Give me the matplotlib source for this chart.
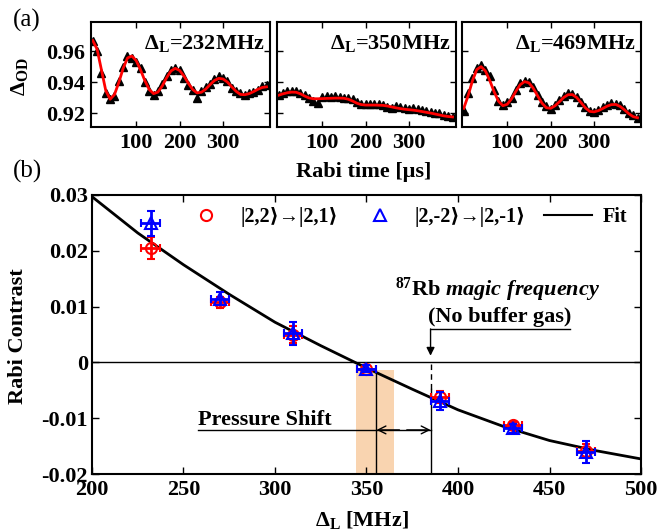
import numpy as np
import matplotlib
matplotlib.use("Agg")
import matplotlib.pyplot as plt
from matplotlib.lines import Line2D

plt.rcParams['font.family'] = ['Liberation Serif', 'DejaVu Serif', 'DejaVu Sans']
plt.rcParams['font.weight'] = 'bold'
plt.rcParams['mathtext.fontset'] = 'custom'
plt.rcParams['mathtext.rm'] = 'Liberation Serif:bold'
plt.rcParams['mathtext.bf'] = 'Liberation Serif:bold'
plt.rcParams['mathtext.it'] = 'Liberation Serif:italic:bold'

# ---------------- data: panel (a) ----------------
rabi_t = list(range(0, 401, 10))
detunings = ["232", "350", "469"]

od_232 = [0.9665, 0.9600, 0.9460, 0.9330, 0.9290, 0.9310, 0.9410, 0.9500, 0.9570, 0.9560,
          0.9530, 0.9490, 0.9400, 0.9340, 0.9320, 0.9340, 0.9390, 0.9440, 0.9480, 0.9490,
          0.9480, 0.9430, 0.9385, 0.9350, 0.9300, 0.9340, 0.9370, 0.9390, 0.9420, 0.9440,
          0.9425, 0.9405, 0.9365, 0.9345, 0.9330, 0.9320, 0.9330, 0.9335, 0.9350, 0.9375, 0.9385]
fit_232 = [0.9670, 0.9614, 0.9480, 0.9346, 0.9290, 0.9320, 0.9398, 0.9490, 0.9557, 0.9570,
           0.9540, 0.9480, 0.9410, 0.9353, 0.9326, 0.9336, 0.9376, 0.9429, 0.9473, 0.9490,
           0.9476, 0.9440, 0.9394, 0.9353, 0.9331, 0.9335, 0.9355, 0.9384, 0.9411, 0.9425,
           0.9421, 0.9401, 0.9370, 0.9341, 0.9321, 0.9319, 0.9326, 0.9339, 0.9354, 0.9366, 0.9370]

od_350 = [0.9318, 0.9330, 0.9340, 0.9345, 0.9342, 0.9330, 0.9315, 0.9300, 0.9280, 0.9265,
          0.9305, 0.9308, 0.9305, 0.9308, 0.9305, 0.9300, 0.9298, 0.9290, 0.9272, 0.9262,
          0.9262, 0.9260, 0.9258, 0.9260, 0.9255, 0.9240, 0.9230, 0.9245, 0.9238, 0.9235,
          0.9225, 0.9232, 0.9225, 0.9222, 0.9212, 0.9208, 0.9200, 0.9200, 0.9190, 0.9183, 0.9175]
fit_350 = [0.9316, 0.9325, 0.9332, 0.9336, 0.9335, 0.9325, 0.9310, 0.9298, 0.9293, 0.9293,
           0.9294, 0.9295, 0.9296, 0.9297, 0.9297, 0.9296, 0.9290, 0.9278, 0.9264, 0.9255,
           0.9252, 0.9252, 0.9252, 0.9251, 0.9250, 0.9246, 0.9240, 0.9234, 0.9229, 0.9225,
           0.9222, 0.9219, 0.9215, 0.9210, 0.9205, 0.9200, 0.9194, 0.9188, 0.9182, 0.9178, 0.9175]

od_469 = [0.9215, 0.9330, 0.9430, 0.9490, 0.9510, 0.9480, 0.9440, 0.9350, 0.9280, 0.9255,
          0.9270, 0.9300, 0.9350, 0.9395, 0.9410, 0.9400, 0.9370, 0.9320, 0.9275, 0.9245,
          0.9228, 0.9255, 0.9282, 0.9310, 0.9330, 0.9325, 0.9305, 0.9272, 0.9240, 0.9215,
          0.9210, 0.9220, 0.9238, 0.9252, 0.9265, 0.9260, 0.9250, 0.9228, 0.9200, 0.9185, 0.9168]
fit_469 = [0.9231, 0.9312, 0.9409, 0.9482, 0.9501, 0.9472, 0.9411, 0.9338, 0.9277, 0.9248,
           0.9257, 0.9292, 0.9341, 0.9384, 0.9404, 0.9396, 0.9361, 0.9312, 0.9265, 0.9235,
           0.9231, 0.9247, 0.9273, 0.9301, 0.9319, 0.9320, 0.9301, 0.9268, 0.9234, 0.9211,
           0.9208, 0.9216, 0.9230, 0.9245, 0.9255, 0.9256, 0.9243, 0.9221, 0.9196, 0.9177, 0.9170]

# ---------------- data: panel (b) ----------------
delta_L = [232, 270, 310, 350, 390, 430, 470]
delta_err = [5, 5, 5, 5, 5, 5, 5]
contrast_22 = [0.0205, 0.0108, 0.0050, -0.0011, -0.0062, -0.0113, -0.0158]
err_22 = [0.0020, 0.0010, 0.0015, 0.0007, 0.0010, 0.0007, 0.0012]
contrast_m22 = [0.0249, 0.0114, 0.0052, -0.0011, -0.0069, -0.0118, -0.0160]
err_m22 = [0.0022, 0.0012, 0.0020, 0.0007, 0.0016, 0.0008, 0.0020]

fit_x = [200, 225, 250, 275, 300, 325, 350, 375, 400, 425, 450, 475, 500]
fit_y = [0.0297, 0.0232, 0.0175, 0.0122, 0.0072, 0.0030, -0.0010, -0.0048, -0.0085,
         -0.0115, -0.0140, -0.0158, -0.0173]

magic_freq = 385
shift_center = 355
shift_band = (344, 365)

# ---------------- figure ----------------
fig = plt.figure(figsize=(6.6, 5.31), dpi=100)
W, H = 660, 531

def axpos(l, t, r, b):
    return [l / W, 1 - b / H, (r - l) / W, (b - t) / H]

TS = 16
top_boxes = [(91, 22, 270, 127), (277, 22, 456, 127), (462, 22, 641, 127)]
od_sets = [od_232, od_350, od_469]
fit_sets = [fit_232, fit_350, fit_469]
for i, (box, od, ft, dl) in enumerate(zip(top_boxes, od_sets, fit_sets, detunings)):
    ax = fig.add_axes(axpos(*box))
    ax.plot(rabi_t, od, linestyle='none', marker='^', color='black', ms=5.5)
    ax.plot(rabi_t, ft, color='red', lw=2)
    ax.set_xlim(-4, 408)
    ax.set_ylim(0.911, 0.979)
    ax.set_xticks([100, 200, 300])
    ax.set_yticks([0.92, 0.94, 0.96])
    ax.tick_params(direction='in', top=True, right=True, length=4, width=1,
                   labelsize=TS, pad=4)
    ax.tick_params(axis='y', pad=4)
    if i > 0:
        ax.set_yticklabels([])
    else:
        ax.set_yticklabels(['0.92', '0.94', '0.96'])
    for s in ax.spines.values():
        s.set_linewidth(1.5)
    ax.text(0.97, 0.80, r"$\Delta_{\mathrm{L}}$=" + dl + "MHz", transform=ax.transAxes,
            ha='right', va='center', fontsize=TS)

fig.text(20 / W, 1 - 77 / H, r"$\Delta_{\mathrm{OD}}$", rotation=90, ha='center',
         va='center', fontsize=TS)
fig.text(364 / W, 1 - 172 / H, "Rabi time [μs]", ha='center', va='center', fontsize=16)
fig.text(27 / W, 1 - 20 / H, "(a)", ha='center', va='center', fontsize=18, fontweight='normal')
fig.text(27 / W, 1 - 171 / H, "(b)", ha='center', va='center', fontsize=18, fontweight='normal')

# ---------------- main panel ----------------
ax = fig.add_axes(axpos(92, 195, 641, 474))
ax.set_xlim(200, 500)
ax.set_ylim(-0.02, 0.03)
ax.axhline(0, color='black', lw=1, zorder=1)

ax.fill_between(list(shift_band), [-0.02, -0.02], [-0.0013, -0.0013],
                color='#f9d4b0', lw=0, zorder=0)
ax.plot([shift_center, shift_center], [-0.02, -0.0017], color='black', lw=1, zorder=1)
ax.plot([magic_freq, magic_freq], [-0.02, -0.0048], color='black', lw=1, zorder=1)
ax.plot([magic_freq, magic_freq], [-0.0048, 0], color='black', lw=1,
        linestyle=(0, (4, 3)), zorder=1)
ax.plot([magic_freq, 461], [0.0059, 0.0059], color='black', lw=1)
ax.annotate('', xy=(magic_freq, 0.0012), xytext=(magic_freq, 0.0060),
            arrowprops=dict(arrowstyle='-|>', color='black', lw=1,
                            mutation_scale=12, shrinkA=0, shrinkB=0))

ax.plot([258, magic_freq], [-0.0121, -0.0121], color='black', lw=1)
ax.annotate('', xy=(shift_center + 0.5, -0.0121), xytext=(368, -0.0121),
            arrowprops=dict(arrowstyle='->', color='black', lw=1,
                            mutation_scale=14, shrinkA=0, shrinkB=0))
ax.annotate('', xy=(magic_freq, -0.0121), xytext=(372, -0.0121),
            arrowprops=dict(arrowstyle='->', color='black', lw=1,
                            mutation_scale=14, shrinkA=0, shrinkB=0))
ax.text(258, -0.0113, "Pressure Shift", ha='left', va='baseline', fontsize=TS)

ax.text(421.5, 0.0130, r"$^{87}$Rb $\mathit{magic\ frequency}$", ha='center',
        va='center', fontsize=TS)
ax.text(423, 0.0082, "(No buffer gas)", ha='center', va='center', fontsize=TS)

ax.plot(fit_x, fit_y, color='black', lw=2, zorder=2)

ax.errorbar(delta_L, contrast_22, yerr=err_22, xerr=delta_err, fmt='o', mfc='none',
            mec='red', ecolor='red', ms=8, mew=1.5, elinewidth=2, capsize=3,
            capthick=2, zorder=3)
ax.errorbar(delta_L, contrast_m22, yerr=err_m22, xerr=delta_err, fmt='^', mfc='none',
            mec='blue', ecolor='blue', ms=8, mew=1.5, elinewidth=2, capsize=3,
            capthick=2, zorder=4)

ax.set_xticks([200, 250, 300, 350, 400, 450, 500])
ax.set_yticks([-0.02, -0.01, 0, 0.01, 0.02, 0.03])
ax.set_yticklabels(['-0.02', '-0.01', '0', '0.01', '0.02', '0.03'])
ax.tick_params(direction='in', top=True, right=True, length=5, width=1,
               labelsize=TS)
ax.tick_params(axis='x', pad=4)
ax.tick_params(axis='y', pad=3)
for s in ax.spines.values():
    s.set_linewidth(1.5)

handles = [Line2D([], [], linestyle='none', marker='o', mfc='none', mec='red', ms=8, mew=1.5),
           Line2D([], [], linestyle='none', marker='^', mfc='none', mec='blue', ms=8, mew=1.5),
           Line2D([], [], color='black', lw=1.5)]
labels = ["|2,2⟩→|2,1⟩", "|2,-2⟩→|2,-1⟩", "Fit"]
ax.legend(handles, labels, loc='center left', bbox_to_anchor=(0.164, 0.921), ncol=3,
          frameon=False, fontsize=14.5, handlelength=2.4, handletextpad=0.5,
          columnspacing=0.9, borderpad=0, borderaxespad=0)

fig.text(18 / W, 1 - 336 / H, "Rabi Contrast", rotation=90, ha='center', va='center',
         fontsize=TS)
fig.text(362 / W, 1 - 520 / H, r"$\Delta_{\mathrm{L}}$ [MHz]", ha='center', va='center',
         fontsize=TS)

fig.savefig("out.png", dpi=100)
